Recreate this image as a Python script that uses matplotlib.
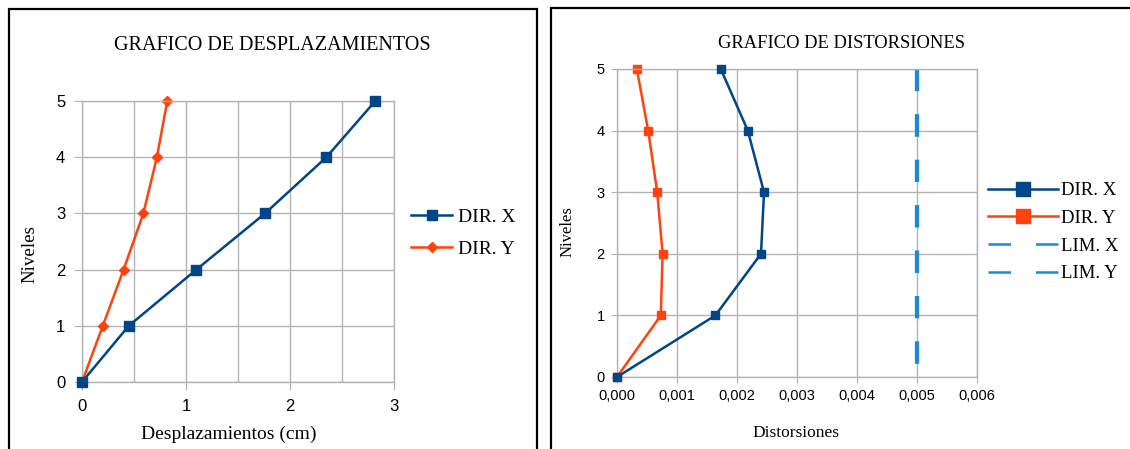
import matplotlib
matplotlib.use("Agg")
import matplotlib.pyplot as plt
from matplotlib.lines import Line2D
from matplotlib.patches import Rectangle
from matplotlib.ticker import MultipleLocator

# ---- data ----
niveles = [0, 1, 2, 3, 4, 5]
despl_x = [0.0, 0.45, 1.10, 1.76, 2.35, 2.82]
despl_y = [0.0, 0.20, 0.40, 0.59, 0.72, 0.82]

dist_x = [0.0, 0.00164, 0.00240, 0.00245, 0.00218, 0.00173]
dist_y = [0.0, 0.00073, 0.00076, 0.00067, 0.00052, 0.00033]
lim_x = [0.005] * 6
lim_y = [0.005] * 6

BLUE = "#004586"
ORANGE = "#ff420e"
LIMC = "#1a8ad4"
GRID = "#b3b3b3"
SERIF = ["Liberation Serif", "DejaVu Serif"]
SANS = ["Liberation Sans", "DejaVu Sans"]

W, H = 1130, 449
fig = plt.figure(figsize=(W / 100, H / 100), dpi=100)


def fx(px):
    return px / W


def fy(py):
    return 1 - py / H


# panel frames
fig.add_artist(Rectangle((fx(9), fy(470)), fx(537 - 9), (470 - 9) / H,
                         transform=fig.transFigure, fill=False, lw=1.6, ec="black"))
fig.add_artist(Rectangle((fx(551), fy(470)), fx(700), (470 - 8) / H,
                         transform=fig.transFigure, fill=False, lw=1.6, ec="black"))


def style_axes(ax):
    for s in ax.spines.values():
        s.set_color(GRID)
        s.set_linewidth(1)
    ax.grid(True, which="both", color=GRID, lw=1)
    ax.set_axisbelow(True)
    ax.tick_params(which="both", color=GRID, direction="out")
    for lab in ax.get_xticklabels() + ax.get_yticklabels():
        lab.set_family(SANS)


# ---- left: desplazamientos ----
ax1 = fig.add_axes([fx(82), fy(382), fx(394 - 82), (382 - 101) / H])
ax1.plot(despl_x, niveles, color=BLUE, lw=1.8, marker="s", ms=7, label="DIR. X",
         clip_on=False, zorder=3)
ax1.plot(despl_y, niveles, color=ORANGE, lw=1.8, marker="D", ms=5, label="DIR. Y",
         clip_on=False, zorder=2)
ax1.set_xlim(0, 3)
ax1.set_ylim(0, 5)
ax1.xaxis.set_major_locator(MultipleLocator(1))
ax1.xaxis.set_minor_locator(MultipleLocator(0.5))
ax1.yaxis.set_major_locator(MultipleLocator(1))
ax1.tick_params(which="major", length=6, labelsize=12, pad=6)
ax1.tick_params(which="minor", length=0)
style_axes(ax1)
ax1.legend(loc="center left", bbox_to_anchor=(1.055, 0.53), frameon=False,
           prop={"family": SERIF, "size": 14}, handlelength=2.1,
           handletextpad=0.3, labelspacing=0.72, borderaxespad=0, borderpad=0)

fig.text(fx(272), fy(45), "GRAFICO DE DESPLAZAMIENTOS", ha="center", va="center",
         family=SERIF, size=14.5)
fig.text(fx(229), fy(434), "Desplazamientos (cm)", ha="center", va="center",
         family=SERIF, size=14)
fig.text(fx(30), fy(254), "Niveles", ha="center", va="center", rotation=90,
         family=SERIF, size=13.7)

# ---- right: distorsiones ----
ax2 = fig.add_axes([fx(617), fy(377), fx(977 - 617), (377 - 69) / H])
ax2.plot(dist_x, niveles, color=BLUE, lw=1.8, marker="s", ms=6, clip_on=False, zorder=3)
ax2.plot(dist_y, niveles, color=ORANGE, lw=1.8, marker="s", ms=6, clip_on=False, zorder=2)
ax2.plot(lim_x, niveles[::-1], color=LIMC, lw=3, dashes=(5.3, 5.6))
ax2.plot(lim_y, niveles[::-1], color=LIMC, lw=3, dashes=(5.3, 5.6))
ax2.set_xlim(0, 0.006)
ax2.set_ylim(0, 5)
ax2.xaxis.set_major_locator(MultipleLocator(0.001))
ax2.yaxis.set_major_locator(MultipleLocator(1))
ax2.xaxis.set_major_formatter(lambda v, p: f"{v:.3f}".replace(".", ","))
ax2.tick_params(which="major", length=4, labelsize=10.5, pad=5)
style_axes(ax2)

handles = [
    Line2D([], [], color=BLUE, lw=1.8, marker="s", ms=10),
    Line2D([], [], color=ORANGE, lw=1.8, marker="s", ms=10),
    Line2D([], [], color=LIMC, lw=1.8, dashes=(9, 10)),
    Line2D([], [], color=LIMC, lw=1.8, dashes=(9, 10)),
]
ax2.legend(handles, ["DIR. X", "DIR. Y", "LIM. X", "LIM. Y"], loc="center left",
           bbox_to_anchor=(1.03, 0.47), frameon=False,
           prop={"family": SERIF, "size": 13.5}, handlelength=3.75,
           handletextpad=0.15, labelspacing=0.56, borderaxespad=0, borderpad=0)

fig.text(fx(842), fy(43), "GRAFICO DE DISTORSIONES", ha="center", va="center",
         family=SERIF, size=13.3)
fig.text(fx(796), fy(433), "Distorsiones", ha="center", va="center",
         family=SERIF, size=12.5)
fig.text(fx(568), fy(232), "Niveles", ha="center", va="center", rotation=90,
         family=SERIF, size=12)

fig.savefig("out.png", dpi=100)
